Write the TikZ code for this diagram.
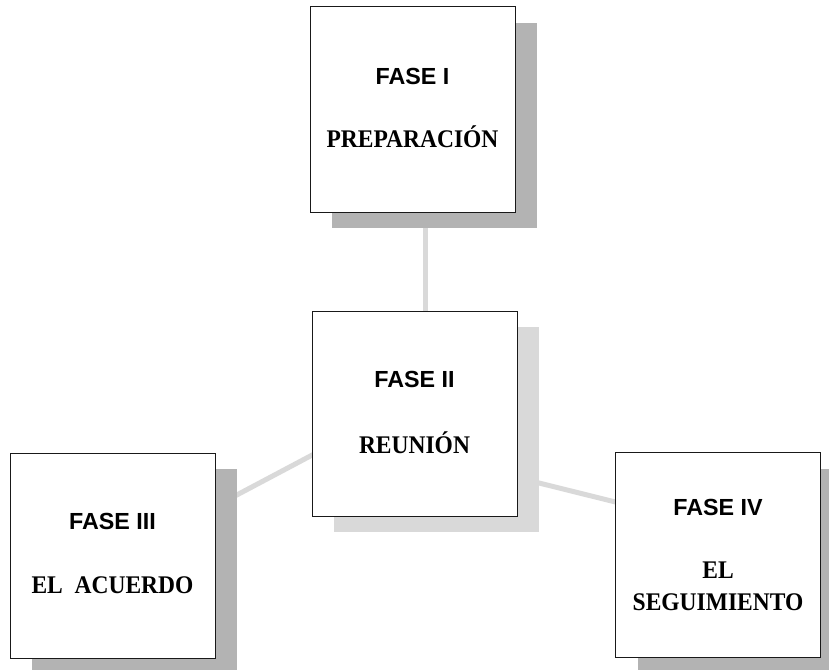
\documentclass[tikz,border=0pt]{standalone}
\usepackage{fontspec}
\setmainfont{Liberation Serif}
\newfontfamily\hsans{Liberation Sans}
\usetikzlibrary{calc,backgrounds}
\definecolor{shdark}{HTML}{B3B3B3}
\definecolor{shlight}{HTML}{D9D9D9}
\definecolor{conncol}{HTML}{D9D9D9}
\newcommand{\tallcaps}[1]{\scalebox{1}[1.08]{#1}}
\begin{document}
\begin{tikzpicture}[x=1pt,y=-1pt,
  phasebox/.style={draw=black!90, line width=1pt, fill=white, minimum width=205pt, minimum height=205pt, inner sep=0pt, outer sep=0pt},
  shadowbox/.style={draw=none, minimum width=205pt, minimum height=205pt, inner sep=0pt, outer sep=0pt},
  headtxt/.style={font=\hsans\bfseries\fontsize{23.3}{27}\selectfont, anchor=base, inner sep=0pt},
  nametxt/.style={font=\bfseries\fontsize{23.5}{27}\selectfont, anchor=base, inner sep=0pt},
  connector/.style={draw=conncol, line width=5pt}]
\useasboundingbox (0,0) rectangle (829,669);
% shadows
\node[shadowbox, fill=shdark] (s1) at (434.5,125.5) {};
\node[shadowbox, fill=shlight] (s2) at (436.5,429.5) {};
\node[shadowbox, fill=shdark] (s3) at (134.5,571.5) {};
\node[shadowbox, fill=shdark] (s4) at (740,571) {};
% boxes
\node[phasebox] (b1) at (412.5,109.5) {};
\node[phasebox] (b2) at (414.5,413.5) {};
\node[phasebox] (b3) at (112.5,555.5) {};
\node[phasebox] (b4) at (718,555) {};
% texts
\node[headtxt] (t1a) at ($(b1.center)+(0,-25)$) {FASE I};
\node[nametxt] (t1b) at ($(b1.center)+(0,38)$) {\tallcaps{PREPARACIÓN}};
\node[headtxt] (t2a) at ($(b2.center)+(0,-25.8)$) {FASE II};
\node[nametxt] (t2b) at ($(b2.center)+(0,39.5)$) {\tallcaps{REUNIÓN}};
\node[headtxt] (t3a) at ($(b3.center)+(0,-26.2)$) {FASE III};
\node[nametxt] (t3b) at ($(b3.center)+(0,37.8)$) {\tallcaps{EL\ \ ACUERDO}};
\node[headtxt] (t4a) at ($(b4.center)+(0,-40)$) {FASE IV};
\node[nametxt] (t4b) at ($(b4.center)+(0,23.5)$) {\tallcaps{EL}};
\node[nametxt] (t4c) at ($(b4.center)+(0,55)$) {\tallcaps{SEGUIMIENTO}};
% connectors
\begin{pgfonlayer}{background}
\draw[connector] ($(s1.south)+(-9.5,-4)$) -- ($(b2.north)+(10.5,4)$);
\draw[connector] ($(s3.east)+(-4,-74.5)$) -- ($(b2.west)+(4,39.5)$);
\draw[connector] ($(s2.east)+(-4,52.5)$) -- ($(b4.west)+(4,-52)$);
\end{pgfonlayer}
\end{tikzpicture}
\end{document}
